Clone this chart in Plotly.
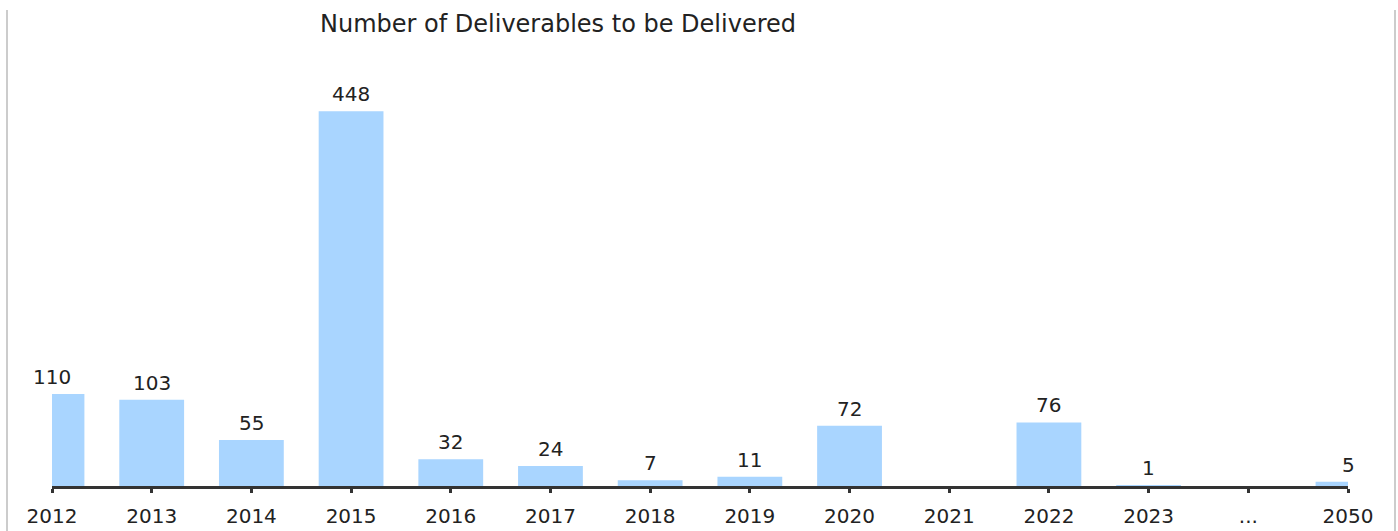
import plotly.graph_objects as go

categories = ["2012", "2013", "2014", "2015", "2016", "2017", "2018", "2019",
              "2020", "2021", "2022", "2023", "...", "2050"]
deliverables = [110, 103, 55, 448, 32, 24, 7, 11, 72, None, 76, 1, None, 5]
title_text = "Number of Deliverables to be Delivered"

FONT = "DejaVu Sans"
BAR_COLOR = "rgb(169,213,255)"

fig = go.Figure()
fig.add_trace(go.Bar(
    x=categories,
    y=deliverables,
    marker=dict(color=BAR_COLOR, line=dict(width=0)),
    hoverinfo="x+y",
))

annotations = []
for i, v in enumerate(deliverables):
    if v is None:
        continue
    annotations.append(dict(
        x=i, y=v, xref="x", yref="y", text=str(v), showarrow=False,
        yanchor="bottom", xanchor="center", yshift=3,
        font=dict(family=FONT, size=20, color="#222222"),
    ))

fig.update_layout(
    width=1398, height=531,
    margin=dict(l=52, r=50, t=10, b=45, autoexpand=False),
    paper_bgcolor="white", plot_bgcolor="white",
    showlegend=False,
    bargap=0.35,
    title=dict(text=title_text, x=558 / 1398, xref="container", xanchor="center",
               y=1 - 24 / 531, yref="container", yanchor="middle",
               font=dict(family=FONT, size=24, color="#222")),
    annotations=annotations,
    shapes=[
        dict(type="line", xref="paper", yref="paper",
             x0=(7 - 52) / 1296, x1=(7 - 52) / 1296, y0=1.0, y1=-0.1,
             line=dict(color="#cccccc", width=2)),
        dict(type="line", xref="paper", yref="paper",
             x0=(1395 - 52) / 1296, x1=(1395 - 52) / 1296, y0=1.0, y1=-0.1,
             line=dict(color="#cccccc", width=2)),
    ],
)

fig.update_xaxes(
    type="category",
    range=[0, len(categories) - 1],
    automargin=False,
    showline=True, linecolor="#333", linewidth=3,
    ticks="outside", ticklen=4, tickwidth=3, tickcolor="#333",
    ticklabelstandoff=6,
    tickfont=dict(family=FONT, size=20, color="#222"),
    showgrid=False, zeroline=False,
)
fig.update_yaxes(
    range=[0, 569],
    automargin=False,
    showticklabels=False, ticks="", showline=False,
    showgrid=False, zeroline=False,
)

fig.write_html(
    "out.html",
    config={"displayModeBar": False},
    post_script="document.body.style.margin='0';document.body.style.overflow='hidden';",
)
